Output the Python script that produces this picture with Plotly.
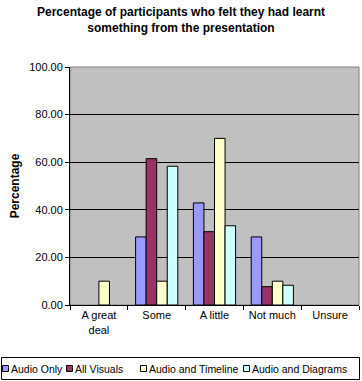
import plotly.graph_objects as go

categories = ["A great<br>deal", "Some", "A little", "Not much", "Unsure"]
series_names = ["Audio Only", "All Visuals", "Audio and Timeline", "Audio and Diagrams"]
audio_only = [0, 28.6, 42.9, 28.6, 0]
all_visuals = [0, 61.5, 30.8, 7.7, 0]
audio_timeline = [10.0, 10.0, 70.0, 10.0, 0]
audio_diagrams = [0, 58.3, 33.3, 8.3, 0]
y_ticks = [0, 20, 40, 60, 80, 100]

colors = ["#9999FF", "#993366", "#FFFFCC", "#CCFFFF"]
series_values = [audio_only, all_visuals, audio_timeline, audio_diagrams]

W, H = 362, 381
L, R, T, B = 70, 3, 67, 76
PW, PH = W - L - R, H - T - B

def px(x):
    return (x - L) / PW

def py(y):
    return (H - B - y) / PH

fig = go.Figure()
for name, vals, col in zip(series_names, series_values, colors):
    fig.add_trace(go.Bar(x=categories, y=vals, name=name, showlegend=False,
                         marker=dict(color=col,
                                     line=dict(color="black",
                                               width=[1 if v > 0 else 0 for v in vals]))))

font = "Arial, Liberation Sans, sans-serif"

shapes = [
    dict(type="rect", xref="paper", yref="paper", x0=0, y0=0, x1=1, y1=1,
         line=dict(color="#808080", width=1), layer="below"),
    dict(type="rect", xref="paper", yref="paper", x0=px(1.5), x1=px(359.5),
         y0=py(379.5), y1=py(357.5), line=dict(color="black", width=1),
         fillcolor="white", layer="above"),
]
annotations = []
sq_x = [2, 66, 140, 243]
for name, col, sx in zip(series_names, colors, sq_x):
    shapes.append(dict(type="rect", xref="paper", yref="paper",
                       x0=px(sx + 0.5), x1=px(sx + 6.5), y0=py(371.5), y1=py(365.5),
                       line=dict(color="black", width=1), fillcolor=col, layer="above"))
    annotations.append(dict(text=name, xref="paper", yref="paper", x=px(sx + 8),
                            y=py(368.5), xanchor="left", yanchor="middle", borderpad=0,
                            showarrow=False, font=dict(family=font, size=10.5, color="black")))

annotations.append(dict(
    text="<b>Percentage of participants who felt they had learnt<br>something from the presentation</b>",
    xref="paper", yref="paper", x=px(181), y=py(20), xanchor="center", yanchor="middle",
    showarrow=False, font=dict(family=font, size=12, color="black")))

fig.update_layout(
    width=W, height=H,
    margin=dict(l=L, r=R, t=T, b=B),
    paper_bgcolor="white", plot_bgcolor="#C0C0C0",
    barmode="group", bargap=0.27, bargroupgap=0,
    font=dict(family=font, size=11, color="black"),
    showlegend=False,
    shapes=shapes,
    annotations=annotations,
    yaxis=dict(range=[0, 100], tickvals=y_ticks, tickformat=".2f",
               showgrid=True, gridcolor="black", gridwidth=1,
               showline=True, linecolor="black", linewidth=1,
               ticks="outside", ticklen=4, tickcolor="black",
               title=dict(text="<b>Percentage</b>", font=dict(family=font, size=12), standoff=6),
               zeroline=False),
    xaxis=dict(showline=True, linecolor="black", linewidth=1,
               ticks="outside", ticklen=4, tickcolor="black", tickson="boundaries",
               showgrid=False),
)

fig.write_html("out.html", config={"displayModeBar": False},
               post_script="document.body.style.margin='0';document.body.style.overflow='hidden';")
